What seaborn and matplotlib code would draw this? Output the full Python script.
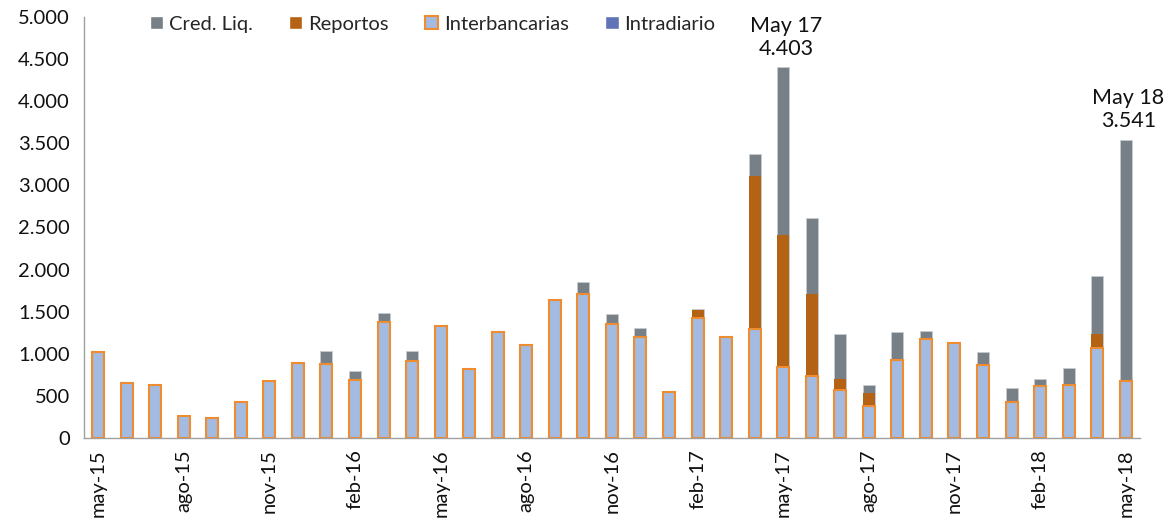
import pandas as pd
import matplotlib
matplotlib.use("Agg")
import matplotlib.pyplot as plt
import matplotlib.patches as mpatches
from matplotlib.ticker import FuncFormatter
import seaborn as sns

# Monthly values, may-15 .. may-18
months = ["may-15", "jun-15", "jul-15", "ago-15", "sep-15", "oct-15", "nov-15", "dic-15",
          "ene-16", "feb-16", "mar-16", "abr-16", "may-16", "jun-16", "jul-16", "ago-16",
          "sep-16", "oct-16", "nov-16", "dic-16", "ene-17", "feb-17", "mar-17", "abr-17",
          "may-17", "jun-17", "jul-17", "ago-17", "sep-17", "oct-17", "nov-17", "dic-17",
          "ene-18", "feb-18", "mar-18", "abr-18", "may-18"]
interbancarias = [1020, 652, 625, 257, 233, 427, 680, 889,
                  874, 684, 1372, 913, 1336, 818, 1257, 1099,
                  1640, 1708, 1356, 1194, 542, 1431, 1194, 1289,
                  838, 739, 569, 383, 929, 1174, 1131, 866,
                  427, 613, 625, 1067, 680]
intradiario = [0] * 37
reportos = [0, 0, 0, 0, 0, 0, 0, 0,
            0, 0, 0, 0, 0, 0, 0, 0,
            0, 0, 0, 0, 0, 91, 0, 1826,
            1569, 977, 131, 151, 0, 0, 0, 0,
            0, 0, 0, 166, 0]
cred_liq = [0, 0, 0, 0, 0, 0, 0, 0,
            162, 107, 110, 123, 0, 0, 0, 0,
            0, 142, 118, 110, 0, 12, 0, 253,
            1996, 901, 537, 98, 324, 91, 0, 158,
            166, 83, 209, 692, 2861]

df = pd.DataFrame({"mes": months, "Interbancarias": interbancarias,
                   "Intradiario": intradiario, "Reportos": reportos,
                   "Cred. Liq.": cred_liq})
df["s1"] = df["Interbancarias"]
df["s2"] = df["s1"] + df["Intradiario"]
df["s3"] = df["s2"] + df["Reportos"]
df["s4"] = df["s3"] + df["Cred. Liq."]

c_cred = "#778086"
c_rep = "#B46214"
c_inter = "#A3BBE1"
c_inter_edge = "#F08C30"
c_intra = "#6073B6"

sns.set_style("white")
plt.rcParams["font.family"] = ["Lato", "DejaVu Sans"]

fig = plt.figure(figsize=(11.65, 5.25), dpi=100)
ax = fig.add_axes([0.072, 0.1657, 0.9065, 0.802])

w = 0.42
sns.barplot(data=df, x="mes", y="s4", color=c_cred, width=w, saturation=1,
            edgecolor="#C8CCCF", linewidth=0.6, ax=ax)
sns.barplot(data=df, x="mes", y="s3", color=c_rep, width=w, saturation=1,
            linewidth=0, ax=ax)
sns.barplot(data=df, x="mes", y="s2", color=c_intra, width=w, saturation=1,
            linewidth=0, ax=ax)
sns.barplot(data=df, x="mes", y="s1", color=c_inter, width=w, saturation=1,
            edgecolor=c_inter_edge, linewidth=1.5, ax=ax)

ax.set_xlim(-0.5, 36.5)
ax.set_ylim(0, 5000)
ax.set_yticks(range(0, 5001, 500))
ax.yaxis.set_major_formatter(FuncFormatter(lambda v, p: f"{v:,.0f}".replace(",", ".")))
ax.set_xticks(range(0, 37, 3))
ax.set_xticklabels(months[::3], rotation=90)
ax.set_xticks([i - 0.5 for i in range(0, 37, 3)], minor=True)
ax.tick_params(axis="x", which="major", length=0, pad=8, labelsize=14.5, colors="#111111")
ax.tick_params(axis="x", which="minor", length=7, width=1, color="#A0A0A0", direction="out")
ax.tick_params(axis="y", length=6, width=1, color="#A0A0A0", labelsize=14.5,
               labelcolor="#111111", direction="out", pad=4)
ax.set_xlabel("")
ax.set_ylabel("")
for s in ["top", "right"]:
    ax.spines[s].set_visible(False)
for s in ["left", "bottom"]:
    ax.spines[s].set_color("#A0A0A0")
    ax.spines[s].set_linewidth(1)

# peak annotations
for i, lab in [(24, "May 17"), (36, "May 18")]:
    tot = df["s4"][i]
    ax.annotate(f"{lab}\n{tot:,.0f}".replace(",", "."), xy=(i, tot), xytext=(2, 6),
                textcoords="offset points", ha="center", va="bottom",
                fontsize=15.5, linespacing=1.2, color="#111111")

handles = [mpatches.Patch(facecolor=c_cred, label="Cred. Liq."),
           mpatches.Patch(facecolor=c_rep, label="Reportos"),
           mpatches.Patch(facecolor=c_inter, edgecolor=c_inter_edge, linewidth=1.5,
                          label="Interbancarias"),
           mpatches.Patch(facecolor=c_intra, label="Intradiario")]
ax.legend(handles=handles, ncol=4, frameon=False, loc="center left",
          bbox_to_anchor=(0.055, 0.983), fontsize=14.5, handlelength=0.65,
          handleheight=0.65, handletextpad=0.3, columnspacing=1.8, borderaxespad=0)

fig.savefig("out.png", dpi=100)
